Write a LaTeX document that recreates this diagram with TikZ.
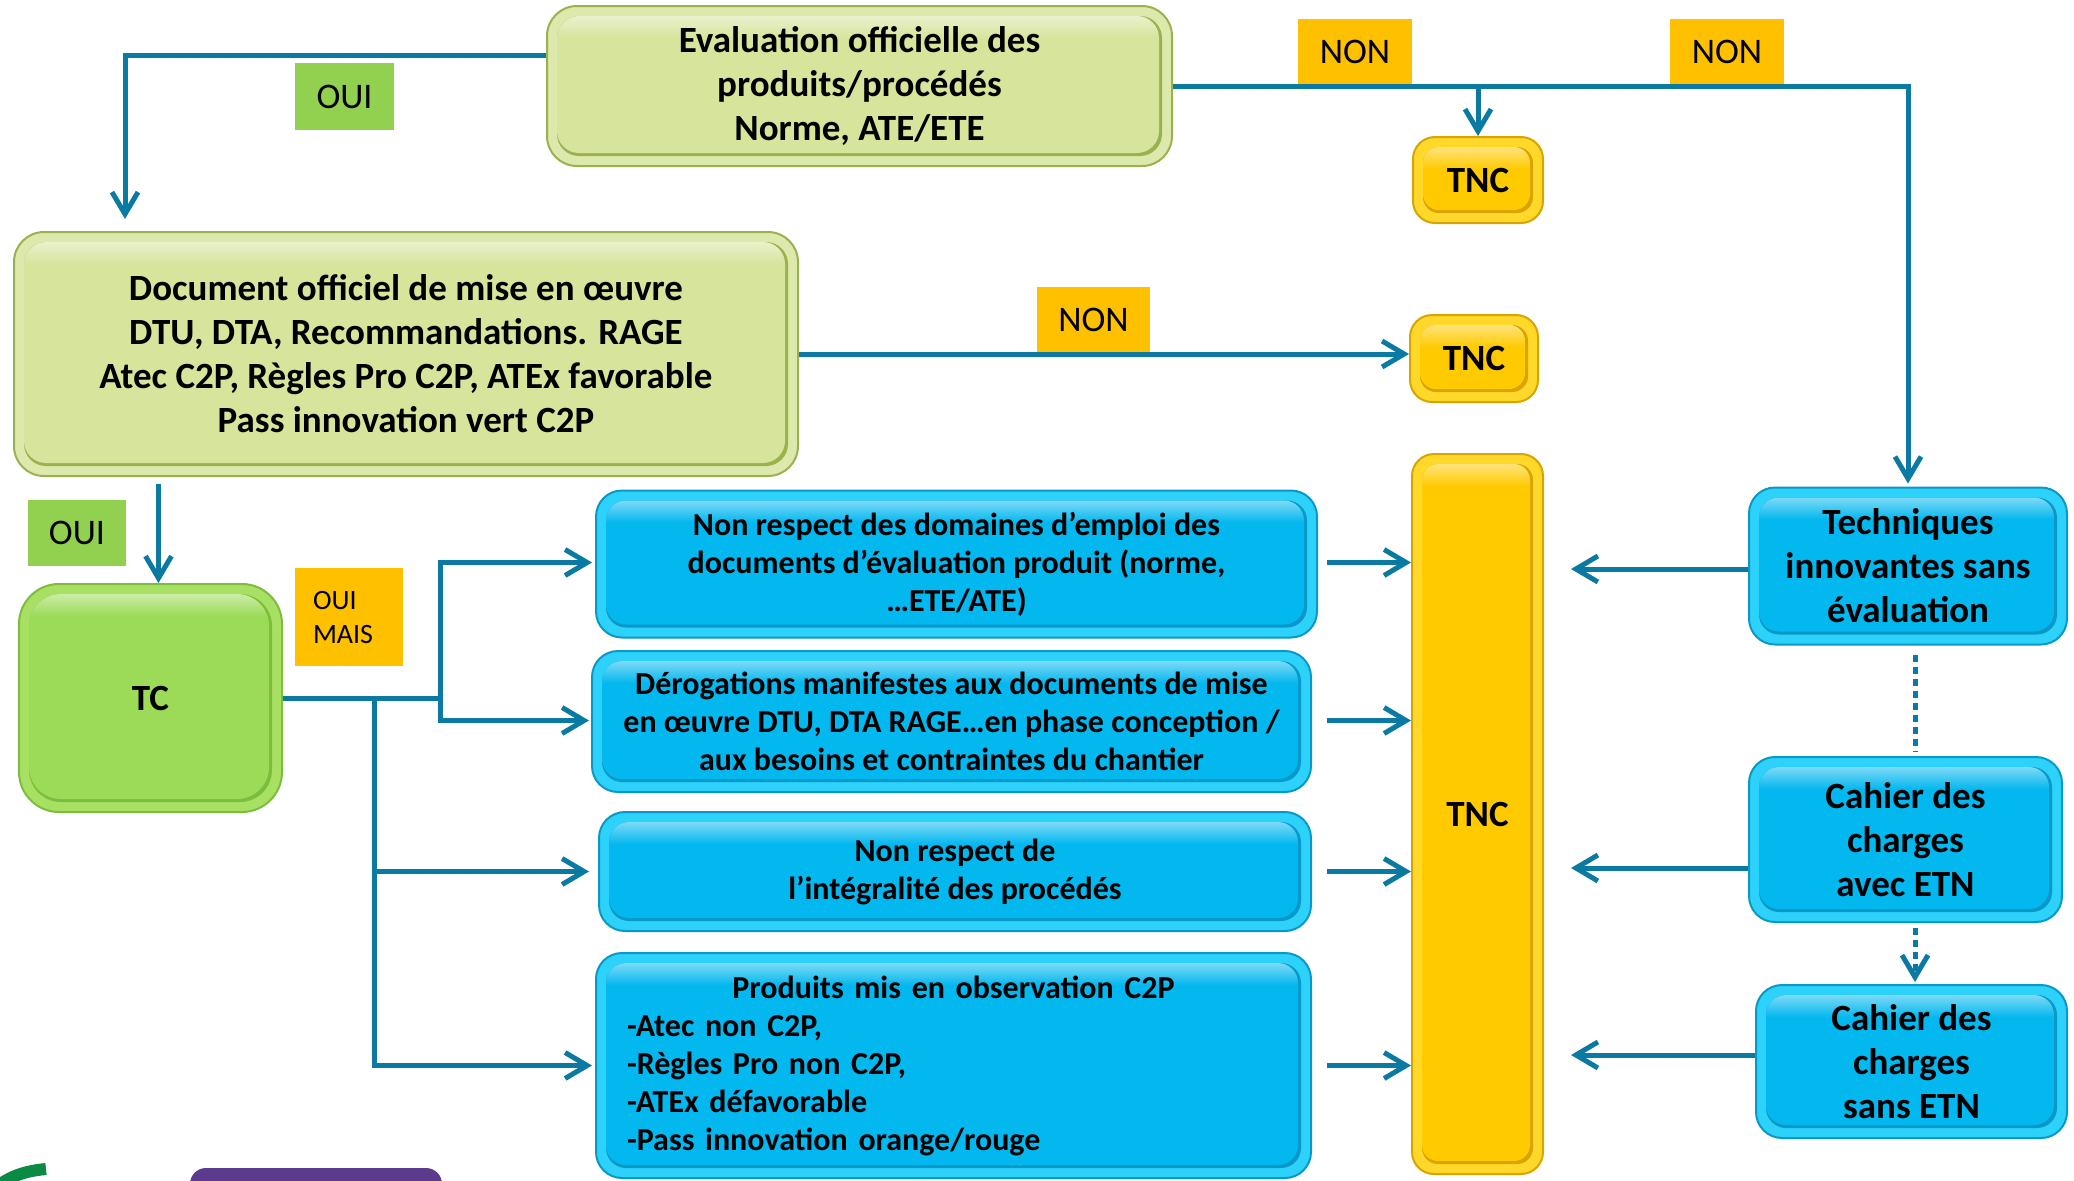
\documentclass[tikz,border=0pt]{standalone}
\usepackage{fontspec}
\setmainfont{Carlito}
\usetikzlibrary{arrows.meta,calc}
\definecolor{linec}{HTML}{0A7AA3}
\definecolor{gmain}{HTML}{D6E49C}
\definecolor{gring}{HTML}{DDE9AC}
\definecolor{gedge}{HTML}{9AB24E}
\definecolor{tcmain}{HTML}{9CDB58}
\definecolor{tcring}{HTML}{A8E064}
\definecolor{tcedge}{HTML}{7DBD3E}
\definecolor{bmain}{HTML}{03B7EF}
\definecolor{bring}{HTML}{2CD2FA}
\definecolor{bedge}{HTML}{0A98C8}
\definecolor{ymain}{HTML}{FFCA00}
\definecolor{yring}{HTML}{FFD82A}
\definecolor{yedge}{HTML}{D9A300}
\definecolor{ouig}{HTML}{92D050}
\definecolor{nono}{HTML}{FFC000}
\definecolor{purp}{HTML}{5C3A8E}
\definecolor{arcg}{HTML}{0A8A45}
\tikzset{
  bev/.style n args={5}{inner sep=0pt, align=center, text=black,
    rounded corners=#4, fill=#2, draw=#3, line width=1pt,
    path picture={
      \fill[#3, rounded corners=#5] ([shift={(5pt,-5pt)}]path picture bounding box.north west) rectangle ([shift={(-5pt,5pt)}]path picture bounding box.south east);
      \begin{scope}[sharp corners]
        \clip[rounded corners=#5] ([shift={(5pt,-5pt)}]path picture bounding box.north west) rectangle ([shift={(-6.5pt,6.5pt)}]path picture bounding box.south east);
        \shade[sharp corners, top color=#1!30!white, bottom color=#1] (path picture bounding box.north west) rectangle ([yshift=-16pt]path picture bounding box.north east);
        \fill[sharp corners, #1] ([yshift=-15.8pt]path picture bounding box.north west) rectangle (path picture bounding box.south east);
      \end{scope}
    }},
  bigtxt/.style={font=\bfseries\fontsize{18.5}{22}\selectfont},
  smtxt/.style={font=\bfseries\fontsize{16}{19}\selectfont},
  gbox/.style={bev={gmain}{gring}{gedge}{15pt}{11pt}, bigtxt},
  tcbox/.style={bev={tcmain}{tcring}{tcedge}{20pt}{16pt}, bigtxt},
  bbox/.style={bev={bmain}{bring}{bedge}{13pt}{10pt}, smtxt},
  rbox/.style={bev={bmain}{bring}{bedge}{13pt}{10pt}, bigtxt},
  ybox/.style={bev={ymain}{yring}{yedge}{11pt}{8pt}, bigtxt},
  lab/.style={inner sep=0pt, text=black, font=\fontsize{18}{22}\selectfont},
  ouilab/.style={lab, fill=ouig},
  nonlab/.style={lab, fill=nono},
  conn/.style={draw=linec, line width=2.5pt},
  arr/.style={conn, -{Straight Barb[length=11pt,width=13pt]}},
  dotsty/.style={dash pattern=on 3.5pt off 2.5pt}
}
\begin{document}
\begin{tikzpicture}[x=0.5pt,y=-0.5pt]
\useasboundingbox (0,0) rectangle (2074,1180);
% cut-off shapes at the bottom
\fill[purp, rounded corners=8pt] (190,1220) rectangle (442,1168);
\draw[arcg, line width=6pt] (-5,1188) .. controls (10,1176) and (25,1171) .. (46,1169);
% main nodes
\node[gbox, minimum width=312.5pt, minimum height=80pt] (eval) at (859.5,86) {Evaluation officielle des\\produits/procédés\\Norme, ATE/ETE};
\node[gbox, minimum width=392pt, minimum height=122pt] (doc) at (406,354) {Document officiel de mise en œuvre\\DTU, DTA, Recommandations. RAGE\\Atec C2P, Règles Pro C2P, ATEx favorable\\Pass innovation vert C2P};
\node[ybox, minimum width=65pt, minimum height=43pt] (tnc1) at (1478,180) {TNC};
\node[ybox, minimum width=64pt, minimum height=43.5pt] (tnc2) at (1474,358.5) {TNC};
\node[ybox, minimum width=65.5pt, minimum height=360pt] (tncbig) at (1477.5,814) {TNC};
\node[tcbox, minimum width=131.5pt, minimum height=114pt] (tc) at (150.5,698) {TC};
\node[bbox, minimum width=360.5pt, minimum height=73.5pt] (b1) at (956.5,564) {Non respect des domaines d’emploi des\\documents d’évaluation produit (norme,\\…ETE/ATE)};
\node[bbox, minimum width=359.5pt, minimum height=70.5pt] (b2) at (951.5,721.5) {Dérogations manifestes aux documents de mise\\en œuvre DTU, DTA RAGE…en phase conception /\\aux besoins et contraintes du chantier};
\node[bbox, minimum width=356pt, minimum height=59.5pt] (b3) at (955,871.5) {Non respect de\\l’intégralité des procédés};
\node[bbox, minimum width=357.5pt, minimum height=112.5pt, text width=326.5pt, align=left] (b4) at (953.5,1065.5) {\makebox[326.5pt][c]{Produits mis en observation C2P}\\-Atec non C2P,\\-Règles Pro non C2P,\\-ATEx défavorable\\-Pass innovation orange/rouge};
\node[rbox, minimum width=159pt, minimum height=78.5pt] (tech) at (1908,566) {Techniques\\innovantes sans\\évaluation};
\node[rbox, minimum width=156.5pt, minimum height=82.5pt] (cav) at (1905.5,839.5) {Cahier des\\charges\\avec ETN};
\node[rbox, minimum width=155.5pt, minimum height=76.5pt] (csans) at (1911.5,1061.5) {Cahier des\\charges\\sans ETN};
% labels
\node[ouilab, minimum width=49.5pt, minimum height=33.5pt] (oui1) at (344.5,96.5) {OUI};
\node[nonlab, minimum width=57pt, minimum height=33pt] (non1) at (1355,52) {NON};
\node[nonlab, minimum width=57pt, minimum height=33pt] (non2) at (1727,52) {NON};
\node[nonlab, minimum width=56.5pt, minimum height=33pt] (non3) at (1093.5,320) {NON};
\node[ouilab, minimum width=49pt, minimum height=33pt] (oui2) at (77,533) {OUI};
\node[nonlab, font=\fontsize{14}{17}\selectfont, inner xsep=9pt, text width=36pt, align=left, minimum height=49pt] (ouimais) at (349,617) {OUI\\MAIS};
% connectors
\draw[arr] ($(eval.west)+(0,-31)$) -| ($(doc.north)+(-281,-12)$);
\draw[arr] (eval.east) -| ($(tech.north)+(0,-3)$);
\draw[arr] (eval.east -| tnc1.north) -- (tnc1.north);
\draw[arr] (doc.east) -- (doc.east -| tnc2.west);
\draw[arr] ($(tc.north)+(8,-99)$) -- ($(tc.north)+(8,0)$);
\coordinate (j1) at ($(tc.east)+(157,0)$);
\coordinate (j2) at ($(tc.east)+(91,0)$);
\draw[conn] (tc.east) -- (j1);
\draw[arr] (j1) |- ($(b1.west)+(-3,-1.5)$);
\draw[arr] (j1) |- ($(b2.west)+(-2,-1)$);
\draw[arr] (j2) |- ($(b3.west)+(-9,0)$);
\draw[arr] (j2) |- ($(b4.west)+(-3,0)$);
\draw[arr] ($(b1.east)+(9,-1.5)$) -- ($(b1.east -| tncbig.west)+(0,-1.5)$);
\draw[arr] ($(b2.east)+(15,-1)$) -- ($(b2.east -| tncbig.west)+(0,-1)$);
\draw[arr] ($(b3.east)+(15,0)$) -- (b3.east -| tncbig.west);
\draw[arr] ($(b4.east)+(15,0)$) -- (b4.east -| tncbig.west);
\draw[arr] ($(tech.west)+(0,3)$) -- ($(tech.west -| tncbig.east)+(27,3)$);
\draw[arr] ($(cav.west)+(0,28.5)$) -- ($(cav.west -| tncbig.east)+(27,28.5)$);
\draw[arr] ($(csans.west)+(0,-6.5)$) -- ($(csans.west -| tncbig.east)+(27,-6.5)$);
\draw[conn, dotsty] ($(tech.south)+(7,9)$) -- ($(cav.north)+(9.5,-4)$);
\draw[arr, dotsty] ($(cav.south)+(9.5,5)$) -- ($(csans.north)+(3.5,-2)$);
\end{tikzpicture}
\end{document}
